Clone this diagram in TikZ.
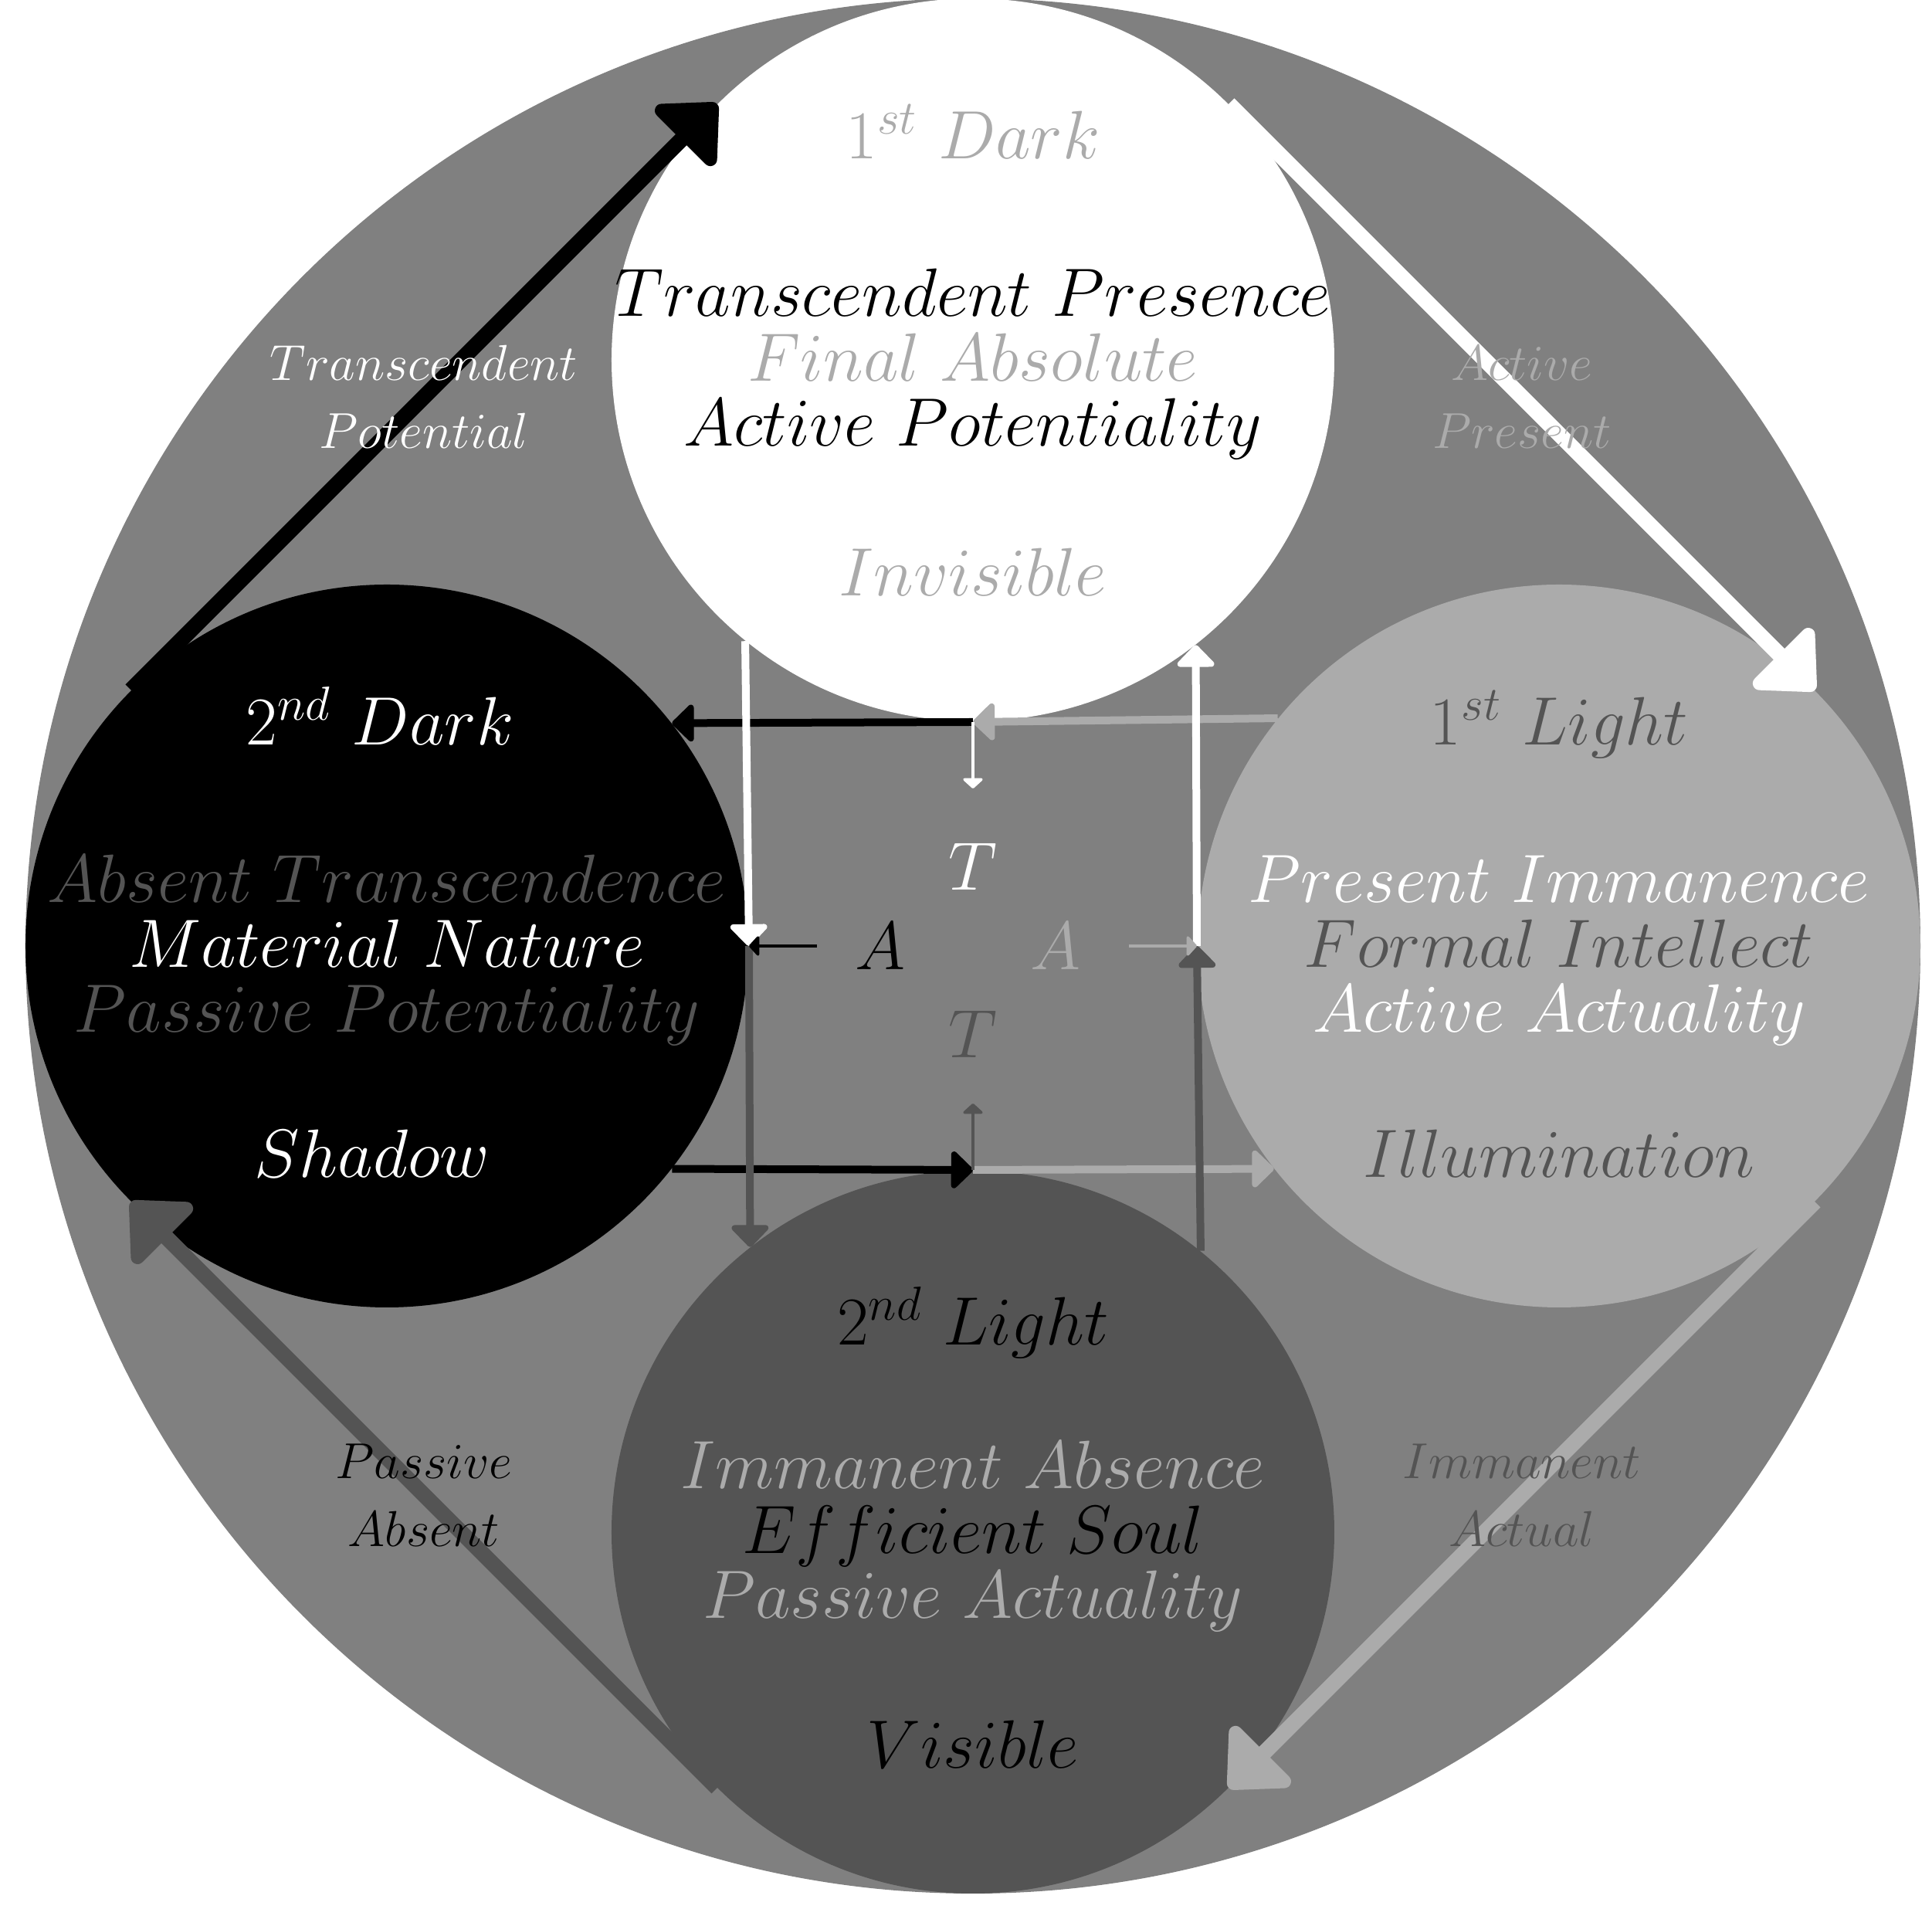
\RequirePackage{fix-cm}
\documentclass[tikz,border=0pt]{standalone}
\usepackage{amsmath}
\usetikzlibrary{arrows.meta,calc}

\colorlet{paleg}{black!33}
\colorlet{midg}{black!50}
\colorlet{deepg}{black!67}

\begin{document}
\begin{tikzpicture}[font=\fontsize{25.2pt}{30pt}\selectfont,
  blob/.style={circle,minimum size=9.36cm,inner sep=0pt},
  line/.style={inner sep=0pt,anchor=base},
  flow/.style={line width=0.2cm,-{Triangle[length=0.7cm,width=1.25cm,round]}},
  link/.style={line width=0.1cm,-{Triangle[length=0.3cm,width=0.56cm,round]}},
  tick/.style={line width=0.04cm,-{Triangle[length=0.14cm,width=0.3cm,round]}},
  elbl/.style={font=\fontsize{18.6pt}{25pt}\selectfont,align=center},
]
\useasboundingbox (-12.60,-12.47) rectangle (12.42,12.25);

\fill[midg] (0,0) circle (12.27);

\node[blob,fill=white] (dark1) at (0,7.59) {};
\node[blob,fill=black] (dark2) at (-7.59,0) {};
\node[blob,fill=paleg] (light1) at (7.59,0) {};
\node[blob,fill=deepg] (light2) at (0,-7.59) {};

% outer cycle
\draw[flow,black] (dark2.135) -- node[elbl,white] (lblTP) {$Transcendent$\\$Potential$} (dark1.135);
\draw[flow,white] (dark1.45) -- node[elbl,paleg] (lblAP) {$Active$\\$Present$} (light1.45);
\draw[flow,paleg] (light1.-45) -- node[elbl,deepg] (lblIA) {$Immanent$\\$Actual$} (light2.-45);
\draw[flow,deepg] (light2.-135) -- node[elbl,black] (lblPA) {$Passive$\\$Absent$} (dark2.-135);

% inner square
\coordinate (jt) at (0,2.9);
\coordinate (jb) at (0,-2.9);
\coordinate (jl) at (-2.9,0);
\coordinate (jr) at (2.9,0);

\draw[link,paleg] (light1.141.7) -- (jt);
\draw[link,black] (jt) -- (dark2.38.3);
\draw[link,black] (dark2.-38.3) -- (jb);
\draw[link,paleg] (jb) -- (light1.218.3);
\draw[link,white] (dark1.231.7) -- (jl);
\draw[link,deepg] (jl) -- (light2.128.3);
\draw[link,deepg] (light2.51.7) -- (jr);
\draw[link,white] (jr) -- (dark1.308.3);

\node[white] (tw) at (0,1.03) {$T$};
\node[deepg] (td) at (0,-1.14) {$T$};
\node[black] (ab) at (-1.20,0) {$A$};
\node[paleg] (ap) at (1.07,0) {$A$};

\draw[tick,white] (jt) -- ($(jt)!0.86cm!(tw)$);
\draw[tick,deepg] (jb) -- ($(jb)!0.86cm!(td)$);
\draw[tick,black] ($(jl)!0.88cm!(ab)$) -- (jl);
\draw[tick,paleg] ($(jr)!0.88cm!(ap)$) -- (jr);

% 1st dark
\node[line,paleg] (d1h) at ($(dark1)+(0,2.60)$) {$1^{st}\ Dark$};
\node[line,black] (d1a) at ($(dark1)+(0,0.56)$) {$Transcendent\ Presence$};
\node[line,paleg] (d1b) at ($(dark1)+(0,-0.28)$) {$Final\ Absolute$};
\node[line,black] (d1c) at ($(dark1)+(0,-1.12)$) {$Active\ Potentiality$};
\node[line,paleg] (d1f) at ($(dark1)+(0,-3.06)$) {$Invisible$};

% 2nd dark
\node[line,white] (d2h) at ($(dark2)+(-0.09,2.60)$) {$2^{nd}\ Dark$};
\node[line,deepg] (d2a) at ($(dark2)+(0,0.56)$) {$Absent\ Transcendence$};
\node[line,white] (d2b) at ($(dark2)+(0,-0.28)$) {$Material\ Nature$};
\node[line,deepg] (d2c) at ($(dark2)+(0,-1.12)$) {$Passive\ Potentiality$};
\node[line,white] (d2f) at ($(dark2)+(-0.19,-3.0)$) {$Shadow$};

% 1st light
\node[line,deepg] (l1h) at ($(light1)+(0,2.60)$) {$1^{st}\ Light$};
\node[line,white] (l1a) at ($(light1)+(0,0.56)$) {$Present\ Immanence$};
\node[line,deepg] (l1b) at ($(light1)+(0,-0.28)$) {$Formal\ Intellect$};
\node[line,white] (l1c) at ($(light1)+(0,-1.12)$) {$Active\ Actuality$};
\node[line,deepg] (l1f) at ($(light1)+(0,-3.0)$) {$Illumination$};

% 2nd light
\node[line,black] (l2h) at ($(light2)+(0,2.42)$) {$2^{nd}\ Light$};
\node[line,paleg] (l2a) at ($(light2)+(0,0.56)$) {$Immanent\ Absence$};
\node[line,black] (l2b) at ($(light2)+(0,-0.28)$) {$Efficient\ Soul$};
\node[line,paleg] (l2c) at ($(light2)+(0,-1.12)$) {$Passive\ Actuality$};
\node[line,black] (l2f) at ($(light2)+(0,-3.06)$) {$Visible$};

\end{tikzpicture}
\end{document}
